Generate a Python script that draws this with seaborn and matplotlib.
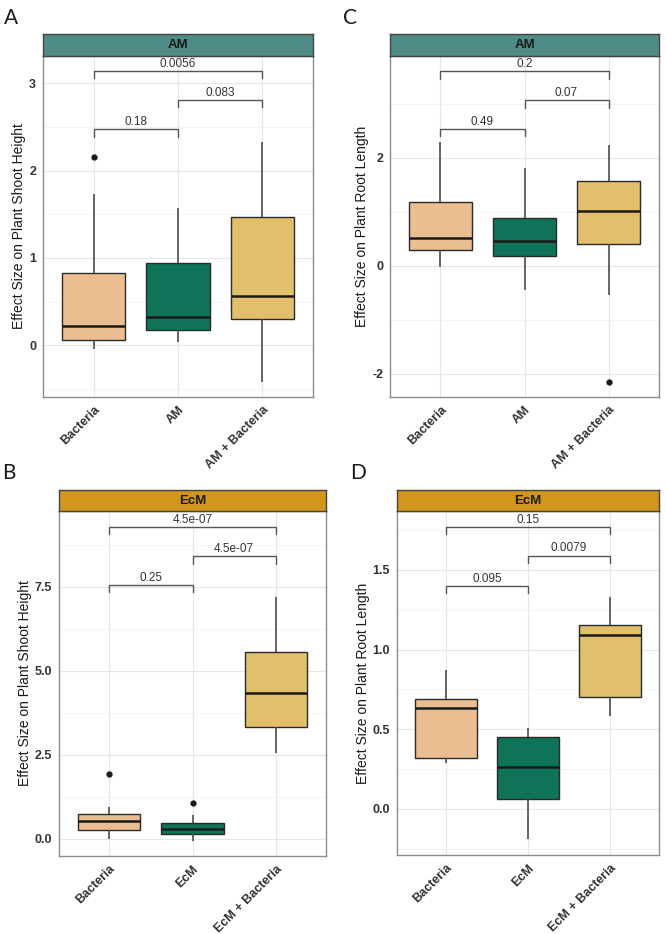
import matplotlib
matplotlib.use("Agg")
import matplotlib.pyplot as plt
import seaborn as sns
import pandas as pd
import numpy as np

# categories
groups_am = ["Bacteria", "AM", "AM + Bacteria"]
groups_ecm = ["Bacteria", "EcM", "EcM + Bacteria"]

# box summaries (lower whisker, Q1, median, Q3, upper whisker, outliers)
shoot_am_lo = [-0.04, 0.04, -0.42]
shoot_am_q1 = [0.06, 0.18, 0.30]
shoot_am_med = [0.22, 0.32, 0.56]
shoot_am_q3 = [0.83, 0.94, 1.47]
shoot_am_hi = [1.73, 1.57, 2.33]
shoot_am_out = [[2.15], [], []]

root_am_lo = [-0.02, -0.44, -0.54]
root_am_q1 = [0.30, 0.19, 0.41]
root_am_med = [0.52, 0.46, 1.02]
root_am_q3 = [1.19, 0.89, 1.57]
root_am_hi = [2.30, 1.81, 2.24]
root_am_out = [[], [], [-2.15]]

shoot_ecm_lo = [0.00, -0.06, 2.56]
shoot_ecm_q1 = [0.27, 0.15, 3.33]
shoot_ecm_med = [0.54, 0.30, 4.35]
shoot_ecm_q3 = [0.74, 0.48, 5.57]
shoot_ecm_hi = [0.95, 0.71, 7.20]
shoot_ecm_out = [[1.93], [1.07], []]

root_ecm_lo = [0.29, -0.19, 0.58]
root_ecm_q1 = [0.32, 0.06, 0.70]
root_ecm_med = [0.63, 0.26, 1.09]
root_ecm_q3 = [0.69, 0.45, 1.155]
root_ecm_hi = [0.87, 0.51, 1.33]
root_ecm_out = [[], [], []]

# pairwise p-values: (Bacteria vs fungus, fungus vs both, Bacteria vs both)
shoot_am_p = ["0.18", "0.083", "0.0056"]
root_am_p = ["0.49", "0.07", "0.2"]
shoot_ecm_p = ["0.25", "4.5e-07", "4.5e-07"]
root_ecm_p = ["0.095", "0.0079", "0.15"]

# bracket heights
shoot_am_br = [2.47, 2.81, 3.14]
root_am_br = [2.54, 3.07, 3.61]
shoot_ecm_br = [7.56, 8.42, 9.29]
root_ecm_br = [1.40, 1.59, 1.77]

colors = ["#EABE91", "#0F735A", "#E2BF6B"]
strip_am = "#4F8B87"
strip_ecm = "#D1961B"

W, H = 666, 934


def build_table(groups, lo, q1, med, q3, hi, out):
    rows = []
    for i, g in enumerate(groups):
        vals = [lo[i], q1[i], q1[i], med[i], med[i], q3[i], q3[i], hi[i]] + out[i]
        for v in vals:
            rows.append({"group": g, "value": v})
    return pd.DataFrame(rows)


def px_axes(fig, left, top, right, bottom):
    return fig.add_axes([left / W, 1 - bottom / H, (right - left) / W, (bottom - top) / H])


def panel(fig, box, strip_top, strip_txt, strip_col, groups, stats, pvals, brs,
          ylim, yticks, yticklabels, minor, ylabel):
    left, top, right, bottom = box
    ax = px_axes(fig, left, top, right, bottom)
    df = build_table(groups, *stats)
    sns.boxplot(data=df, x="group", y="value", hue="group", order=groups,
                hue_order=groups, palette=colors, saturation=1, width=0.75,
                legend=False, showcaps=False, linewidth=1.0, ax=ax,
                boxprops=dict(edgecolor="#2a2a2a", linewidth=1.0),
                whiskerprops=dict(color="#4d4d4d", linewidth=1.2),
                medianprops=dict(color="#1a1a1a", linewidth=1.8),
                flierprops=dict(marker="o", markerfacecolor="#1a1a1a",
                                markeredgecolor="#1a1a1a", markersize=3.5))
    ax.set_ylim(*ylim)
    ax.set_xlim(-0.6, 2.6)
    ax.set_yticks(yticks)
    ax.set_yticklabels(yticklabels, fontweight="bold")
    ax.set_yticks(minor, minor=True)
    ax.tick_params(axis="y", which="minor", length=0)
    ax.grid(True, which="major", color="#e6e6e6", linewidth=0.8)
    ax.grid(True, which="minor", axis="y", color="#f2f2f2", linewidth=0.6)
    ax.set_axisbelow(True)
    ax.set_facecolor("white")
    for s in ax.spines.values():
        s.set_color("#8c8c8c")
        s.set_linewidth(1.0)
        s.set_visible(True)
    ax.tick_params(axis="both", which="major", length=3, color="#666666",
                   labelsize=9, labelcolor="#333333", pad=2)
    ax.set_xticks(range(3))
    ax.set_xticklabels(groups, rotation=45, ha="right", rotation_mode="anchor",
                       fontsize=9, color="#333333", fontweight="bold")
    ax.set_xlabel("")
    ax.set_ylabel(ylabel, fontsize=10, color="#1a1a1a", labelpad=2)

    # significance brackets
    span = ylim[1] - ylim[0]
    drop = 0.022 * span
    pairs = [(0, 1), (1, 2), (0, 2)]
    for (a, b), p, y in zip(pairs, pvals, brs):
        ax.plot([a, a, b, b], [y - drop, y, y, y - drop], color="#555555",
                linewidth=1.0, solid_joinstyle="miter")
        ax.annotate(p, xy=((a + b) / 2, y), xytext=(0, 3), textcoords="offset points",
                    ha="center", va="baseline", fontsize=8.5, color="#333333")

    # facet strip
    sax = px_axes(fig, left, strip_top, right, top)
    sax.set_facecolor(strip_col)
    sax.set_xticks([])
    sax.set_yticks([])
    for s in sax.spines.values():
        s.set_color("#444444")
        s.set_linewidth(1.0)
    sax.text(0.5, 0.48, strip_txt, ha="center", va="center", fontsize=9.5,
             fontweight="bold", color="#1a1a1a", transform=sax.transAxes)
    return ax


sns.set_theme(style="white")
plt.rcParams["font.family"] = ["Liberation Sans", "DejaVu Sans"]

fig = plt.figure(figsize=(W / 100, H / 100), dpi=100)

panel(fig, (43, 56, 313, 397), 34, "AM", strip_am, groups_am,
      (shoot_am_lo, shoot_am_q1, shoot_am_med, shoot_am_q3, shoot_am_hi, shoot_am_out),
      shoot_am_p, shoot_am_br, (-0.59, 3.31), [0, 1, 2, 3], ["0", "1", "2", "3"],
      [-0.5, 0.5, 1.5, 2.5], "Effect Size on Plant Shoot Height")

panel(fig, (390, 56, 659, 397), 34, "AM", strip_am, groups_am,
      (root_am_lo, root_am_q1, root_am_med, root_am_q3, root_am_hi, root_am_out),
      root_am_p, root_am_br, (-2.43, 3.89), [-2, 0, 2], ["-2", "0", "2"],
      [-1, 1, 3], "Effect Size on Plant Root Length")

panel(fig, (59, 511, 326, 856), 490, "EcM", strip_ecm, groups_ecm,
      (shoot_ecm_lo, shoot_ecm_q1, shoot_ecm_med, shoot_ecm_q3, shoot_ecm_hi, shoot_ecm_out),
      shoot_ecm_p, shoot_ecm_br, (-0.51, 9.76), [0, 2.5, 5, 7.5],
      ["0.0", "2.5", "5.0", "7.5"], [1.25, 3.75, 6.25, 8.75],
      "Effect Size on Plant Shoot Height")

panel(fig, (397, 511, 659, 855), 490, "EcM", strip_ecm, groups_ecm,
      (root_ecm_lo, root_ecm_q1, root_ecm_med, root_ecm_q3, root_ecm_hi, root_ecm_out),
      root_ecm_p, root_ecm_br, (-0.29, 1.87), [0, 0.5, 1.0, 1.5],
      ["0.0", "0.5", "1.0", "1.5"], [-0.25, 0.25, 0.75, 1.25, 1.75],
      "Effect Size on Plant Root Length")

# panel letters
for letter, x, y in [("A", 4, 8), ("C", 343, 8), ("B", 2, 463), ("D", 350, 463)]:
    fig.text(x / W, 1 - y / H, letter, ha="left", va="top", fontsize=15,
             color="#1a1a1a", family=["Lato", "DejaVu Sans"])

fig.savefig("out.png", dpi=100)
